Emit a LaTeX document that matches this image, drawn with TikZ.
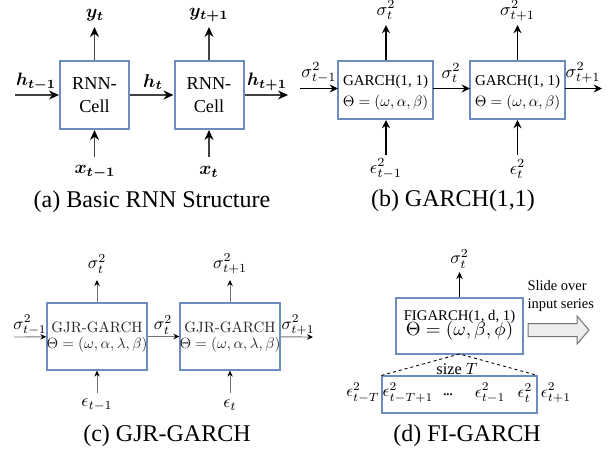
\RequirePackage{fix-cm}
\documentclass[tikz,border=0pt]{standalone}
\usepackage{amsmath}
\usepackage{graphicx}
\usepackage[no-math]{fontspec}
\setmainfont{Liberation Serif}
\usetikzlibrary{arrows.meta}
\definecolor{boxblue}{HTML}{6C8EBF}
\newcommand{\mysc}[2]{\scalebox{#1}{#2}}
\begin{document}
\begin{tikzpicture}[x=0.4pt,y=-0.4pt,
  cellA/.style={draw=boxblue, line width=0.8pt, minimum width=27.6pt, minimum height=27.2pt, inner sep=0pt, align=center, font=\fontsize{7.3}{9.2}\selectfont},
  cellB/.style={draw=boxblue, line width=0.8pt, minimum width=38pt, minimum height=23.2pt, inner sep=0pt},
  cellC/.style={draw=boxblue, line width=0.5pt, minimum width=40pt, minimum height=26.8pt, inner sep=0pt},
  cellD/.style={draw=boxblue, line width=0.6pt, minimum width=50.8pt, minimum height=22.4pt, inner sep=0pt},
  inbox/.style={draw=boxblue, line width=0.45pt, minimum width=62pt, minimum height=14.8pt, inner sep=0pt},
  arrA/.style={draw=black!75, line width=0.5pt, -{Stealth[length=4pt,width=3.6pt,inset=1.3pt,color=black]}},
  arrB/.style={draw=black, line width=0.45pt, -{Stealth[length=3.3pt,width=3.2pt,inset=1.1pt]}},
  arrC/.style={draw=black!55, line width=0.35pt, -{Stealth[length=2.4pt,width=2.2pt,inset=0.8pt,color=black]}},
  arrD/.style={draw=black, line width=0.45pt, -{Stealth[length=2.8pt,width=2.6pt,inset=0.9pt]}},
  lbl/.style={inner sep=0pt, font=\fontsize{10}{12}\selectfont},
  txtB/.style={inner sep=0pt, font=\fontsize{6}{7}\selectfont},
  capt/.style={inner sep=0pt, font=\fontsize{9.6}{11}\selectfont},
  dashln/.style={draw=black, line width=0.35pt, dash pattern=on 1.2pt off 1.2pt}
]
\useasboundingbox (0,0) rectangle (613,453);

% ---------------- (a) ----------------
\node[cellA] (A1) at (94.5,95) {RNN-\\Cell};
\node[cellA] (A2) at (209,95) {RNN-\\Cell};
\coordinate (a0) at (15,95);
\coordinate (a3) at (288,95);
\coordinate (ay1) at (94.5,27);
\coordinate (ay2) at (209,27);
\coordinate (ax1) at (94.5,157);
\coordinate (ax2) at (209,157);
\draw[arrA] (a0) -- (A1);
\draw[arrA] (A1) -- (A2);
\draw[arrA] (A2) -- (a3);
\draw[arrA] (A1) -- (ay1);
\draw[arrA] (A2) -- (ay2);
\draw[arrA] (ax1) -- (A1);
\draw[arrA] (ax2) -- (A2);
\node[lbl] (lay1) at (95,15) {\mysc{0.74}{$\boldsymbol{y_{t}}$}};
\node[lbl] (lay2) at (209,15) {\mysc{0.74}{$\boldsymbol{y_{t+1}}$}};
\node[lbl] (lah0) at (36,82) {\mysc{0.72}{$\boldsymbol{h_{t-1}}$}};
\node[lbl] (lah1) at (153,82) {\mysc{0.74}{$\boldsymbol{h_{t}}$}};
\node[lbl] (lah2) at (267,82) {\mysc{0.72}{$\boldsymbol{h_{t+1}}$}};
\node[lbl] (lax1) at (95,172) {\mysc{0.74}{$\boldsymbol{x_{t-1}}$}};
\node[lbl] (lax2) at (209,172) {\mysc{0.74}{$\boldsymbol{x_{t}}$}};
\node[capt] (capa) at (152,202) {(a) Basic RNN Structure};

% ---------------- (b) ----------------
\node[cellB] (B1) at (385.5,90) {};
\node[cellB] (B2) at (517.5,90) {};
\node[txtB] (B1a) at (385.5,81.7) {GARCH(1, 1)};
\node[lbl] (B1b) at (385.5,103) {\mysc{0.6}{$\Theta=(\omega,\alpha,\beta)$}};
\node[txtB] (B2a) at (517.5,81.7) {GARCH(1, 1)};
\node[lbl] (B2b) at (517.5,103) {\mysc{0.6}{$\Theta=(\omega,\alpha,\beta)$}};
\coordinate (b0) at (300,88.5);
\coordinate (b1w) at (338,88.5);
\coordinate (b1e) at (433,88.5);
\coordinate (b2w) at (470,88.5);
\coordinate (b2e) at (565,88.5);
\coordinate (b3) at (602,88.5);
\coordinate (by1) at (386,25);
\coordinate (by2) at (517.5,25);
\coordinate (bx1) at (386,155);
\coordinate (bx2) at (517.5,155);
\draw[arrB] (b0) -- (b1w);
\draw[arrB] (b1e) -- (b2w);
\draw[arrB] (b2e) -- (b3);
\draw[arrB] (B1.north -| by1) -- (by1);
\draw[arrB] (B2.north -| by2) -- (by2);
\draw[arrB] (bx1) -- (B1.south -| bx1);
\draw[arrB] (bx2) -- (B2.south -| bx2);
\node[lbl] (lbs1) at (386,10) {\mysc{0.72}{$\sigma^2_t$}};
\node[lbl] (lbs2) at (517.5,11) {\mysc{0.72}{$\sigma^2_{t+1}$}};
\node[lbl] (lbh0) at (319,73) {\mysc{0.72}{$\sigma^2_{t-1}$}};
\node[lbl] (lbh1) at (451,73) {\mysc{0.72}{$\sigma^2_{t}$}};
\node[lbl] (lbh2) at (583,73) {\mysc{0.72}{$\sigma^2_{t+1}$}};
\node[lbl] (lbe1) at (386,169) {\mysc{0.72}{$\epsilon^2_{t-1}$}};
\node[lbl] (lbe2) at (517.5,169) {\mysc{0.72}{$\epsilon^2_{t}$}};
\node[capt] (capb) at (453,201) {(b) GARCH(1,1)};

% ---------------- (c) ----------------
\node[cellC] (C1) at (97,336.5) {};
\node[cellC] (C2) at (230,336.5) {};
\node[lbl, text=black!85] (C1a) at (97,327) {\mysc{0.6}{$\mathrm{GJR\mathchar"002D GARCH}$}};
\node[lbl, text=black!85] (C1b) at (97,345) {\mysc{0.6}{$\Theta=(\omega,\alpha,\lambda,\beta)$}};
\node[lbl, text=black!85] (C2a) at (230,327) {\mysc{0.6}{$\mathrm{GJR\mathchar"002D GARCH}$}};
\node[lbl, text=black!85] (C2b) at (230,345) {\mysc{0.6}{$\Theta=(\omega,\alpha,\lambda,\beta)$}};
\coordinate (c0) at (14,337);
\coordinate (c3) at (313,337);
\coordinate (cy1) at (97,280);
\coordinate (cy2) at (230,280);
\coordinate (cx1) at (97,393);
\coordinate (cx2) at (230,393);
\draw[arrC] (c0) -- (C1);
\draw[arrC] (C1) -- (C2);
\draw[arrC] (C2) -- (c3);
\draw[arrC] (C1) -- (cy1);
\draw[arrC] (C2) -- (cy2);
\draw[arrC] (cx1) -- (C1);
\draw[arrC] (cx2) -- (C2);
\node[lbl] (lcs1) at (97,264) {\mysc{0.7}{$\sigma^2_t$}};
\node[lbl] (lcs2) at (230,264) {\mysc{0.7}{$\sigma^2_{t+1}$}};
\node[lbl] (lch0) at (30,325) {\mysc{0.68}{$\sigma^2_{t-1}$}};
\node[lbl] (lch1) at (163,325) {\mysc{0.7}{$\sigma^2_{t}$}};
\node[lbl] (lch2) at (298,325) {\mysc{0.68}{$\sigma^2_{t+1}$}};
\node[lbl] (lce1) at (97,405) {\mysc{0.7}{$\epsilon_{t-1}$}};
\node[lbl] (lce2) at (230,405) {\mysc{0.7}{$\epsilon_{t}$}};
\node[capt] (capc) at (167,436) {(c) GJR-GARCH};

% ---------------- (d) ----------------
\node[cellD] (D) at (459.5,326) {};
\node[inner sep=0pt, font=\fontsize{5.9}{7}\selectfont] (Da) at (459.5,317) {FIGARCH(1, d, 1)};
\node[lbl] (Db) at (459.5,331) {\mysc{0.76}{$\Theta=(\omega,\beta,\phi)$}};
\coordinate (dy) at (459.5,272);
\draw[arrD] (D) -- (dy);
\node[lbl] (lds) at (459.5,259) {\mysc{0.7}{$\sigma^2_t$}};
\node[inbox] (IN) at (459.5,394.5) {};
\coordinate (dapex) at (459.5,354);
\draw[dashln] (IN.north west) -- (dapex) -- (IN.north east);
\node[lbl] (dsz) at (457,369) {\mysc{0.65}{size $T$}};
\node[lbl] (de0) at (363,393) {\mysc{0.68}{$\epsilon^2_{t-T}$}};
\node[lbl] (de1) at (408,393) {\mysc{0.68}{$\epsilon^2_{t-T+1}$}};
\node[inner sep=0pt, font=\bfseries\fontsize{5}{6}\selectfont] (ddots) at (448,395) {...};
\node[lbl] (de2) at (490,393) {\mysc{0.68}{$\epsilon^2_{t-1}$}};
\node[lbl] (de3) at (525,393) {\mysc{0.68}{$\epsilon^2_{t}$}};
\node[lbl] (de4) at (556,393) {\mysc{0.68}{$\epsilon^2_{t+1}$}};
\node[inner sep=0pt, anchor=west, align=left, font=\fontsize{5.8}{7.2}\selectfont] (dslide) at (527,296) {Slide over\\input series};
\draw[draw=black!55, line width=0.4pt, fill=black!7]
  (528,323.5) -- (577,323.5) -- (577,316) -- (589,330) -- (577,344) -- (577,336.5) -- (528,336.5) -- cycle;
\node[capt] (capd) at (467,436) {(d) FI-GARCH};
\end{tikzpicture}
\end{document}
